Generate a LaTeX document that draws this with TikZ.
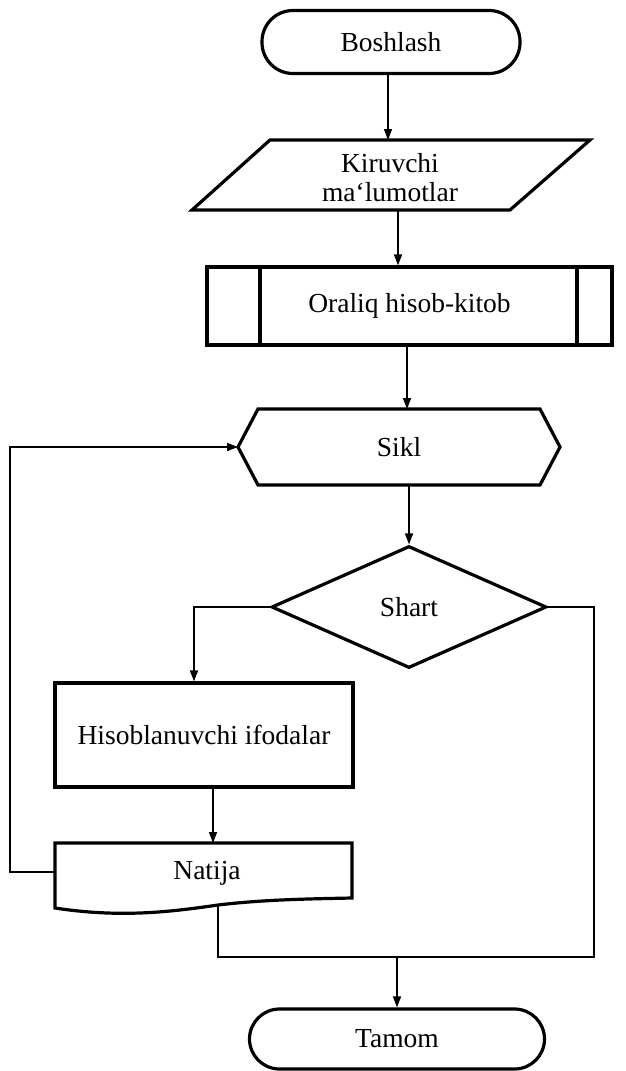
\documentclass[tikz,border=0pt]{standalone}
\usepackage{fontspec}
\setmainfont{Liberation Serif}
\usetikzlibrary{arrows.meta,shapes.geometric,calc}
\begin{document}
\begin{tikzpicture}[x=1pt,y=-1pt,
  outline/.style={draw, line width=3.2pt, line join=miter},
  box/.style={outline, fill=white, font=\fontsize{27.5}{29}\selectfont, align=center, inner sep=0pt},
  lbl/.style={font=\fontsize{27.5}{29}\selectfont, align=center, inner sep=0pt},
  conn/.style={line width=1.5pt},
  arr/.style={conn,-{Triangle[length=11pt,width=8pt]}}]
\useasboundingbox (0,0) rectangle (626,1071);

% Boshlash
\node[box, rounded corners=31pt, minimum width=258pt, minimum height=63pt] (start) at (391,42) {Boshlash};

% Kiruvchi ma'lumotlar (parallelogram)
\coordinate (k1) at (270,140);
\coordinate (k2) at (590,140);
\coordinate (k3) at (510,210);
\coordinate (k4) at (192,210);
\draw[outline] (k1) -- (k2) -- (k3) -- (k4) -- cycle;
\node[lbl] (kir) at (390,178) {Kiruvchi\\ma‘lumotlar};

% Oraliq hisob-kitob (predefined process)
\node[box, minimum width=405pt, minimum height=78pt] (ora) at (409.5,306) {Oraliq hisob-kitob};
\coordinate (oi1) at (260,0);
\coordinate (oi2) at (577,0);
\draw[outline] (ora.north -| oi1) -- (ora.south -| oi1);
\draw[outline] (ora.north -| oi2) -- (ora.south -| oi2);

% Sikl (hexagon)
\coordinate (s1) at (238,447);
\coordinate (s2) at (258,409);
\coordinate (s3) at (540,409);
\coordinate (s4) at (560,447);
\coordinate (s5) at (540,485);
\coordinate (s6) at (258,485);
\draw[outline] (s1) -- (s2) -- (s3) -- (s4) -- (s5) -- (s6) -- cycle;
\node[lbl] (sikl) at (399,447) {Sikl};

% Shart (decision)
\node[box, diamond, minimum width=275pt, minimum height=122pt] (shart) at (409,607) {Shart};

% Hisoblanuvchi ifodalar
\node[box, minimum width=298pt, minimum height=104pt] (hisob) at (204,735) {Hisoblanuvchi ifodalar};

% Natija (document)
\coordinate (n1) at (55,843);
\coordinate (n2) at (352,843);
\coordinate (n3) at (352,898);
\coordinate (n4) at (55,908);
\coordinate (nout) at (218,905);
\draw[outline] (n4) -- (n1) -- (n2) -- (n3)
  .. controls (300,899) and (260,900) .. (nout)
  .. controls (170,912) and (120,918) .. (n4) -- cycle;
\node[lbl] (nat) at (207,873) {Natija};

% Tamom
\node[box, rounded corners=30pt, minimum width=295pt, minimum height=60pt] (end) at (397,1039) {Tamom};

% helper coordinates
\coordinate (a1) at (388,0);
\coordinate (a2) at (398,0);
\coordinate (a3) at (407,0);
\coordinate (lb) at (194,0);
\coordinate (rb) at (594,0);
\coordinate (c1) at (213,0);
\coordinate (fbL) at (55,872);
\coordinate (fb1) at (10,872);
\coordinate (fb2) at (10,447);
\coordinate (mrg) at (594,957);
\coordinate (mlf) at (218,957);

% connectors
\draw[arr] (start.south -| a1) -- (k1 -| a1);
\draw[arr] (k4 -| a2) -- (ora.north -| a2);
\draw[arr] (ora.south -| a3) -- (s2 -| a3);
\draw[arr] (s6 -| shart.north) -- (shart.north);
\draw[arr] (shart.west) -- (shart.west -| lb) -- (hisob.north -| lb);
\draw[arr] (hisob.south -| c1) -- (n1 -| c1);
\draw[arr] (fbL) -- (fb1) -- (fb2) -- (s1);
\draw[conn] (shart.east) -- (shart.east -| rb) -- (mrg) -- (mlf) -- (nout);
\draw[arr] (mlf -| end.north) -- (end.north);
\end{tikzpicture}
\end{document}
